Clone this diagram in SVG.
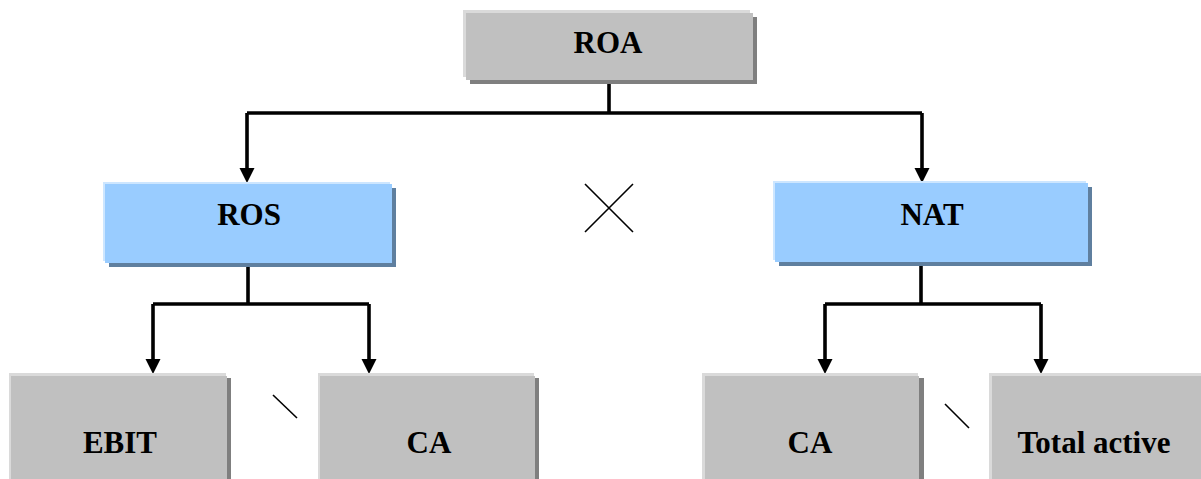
<svg xmlns="http://www.w3.org/2000/svg" width="1201" height="479" viewBox="0 0 1201 479">
<style>
.gray .hl{fill:#dadada}
.gray .sh{fill:#7f7f7f}
.gray .bx{fill:#c0c0c0}
.blue .hl{fill:#cde6ff}
.blue .sh{fill:#5f7f9f}
.blue .bx{fill:#99ccff}
text{font-family:"Liberation Serif","Times New Roman",serif;font-weight:bold;font-size:31px;fill:#000;text-anchor:middle}
.conn{fill:none;stroke:#000;stroke-width:3.6;stroke-linejoin:miter}
.thin{fill:none;stroke:#000;stroke-width:1.6}
.head{fill:#000}
</style>
<rect width="1201" height="479" fill="#fff"/>

<g id="connectors">
<path class="conn" d="M609,80 V113"/>
<path class="conn" d="M247,113 H922"/>
<path d="M247,113 V170" class="conn"/>
<polygon class="head" points="239.5,168 254.5,168 247,183"/>
<path d="M922,113 V170" class="conn"/>
<polygon class="head" points="914.5,168 929.5,168 922,183"/>
<path class="conn" d="M248,263 V304"/>
<path class="conn" d="M153,304 H369"/>
<path class="conn" d="M153,304 V361"/>
<polygon class="head" points="145.5,359 160.5,359 153,374"/>
<path class="conn" d="M369,304 V361"/>
<polygon class="head" points="361.5,359 376.5,359 369,374"/>
<path class="conn" d="M921,263 V304"/>
<path class="conn" d="M825,304 H1041"/>
<path class="conn" d="M825,304 V361"/>
<polygon class="head" points="817.5,359 832.5,359 825,374"/>
<path class="conn" d="M1041,304 V361"/>
<polygon class="head" points="1033.5,359 1048.5,359 1041,374"/>
</g>

<g id="operators">
<path class="thin" d="M585,184 L633,232 M633,184 L585,232"/>
<path class="thin" d="M273,395 L297,418"/>
<path class="thin" d="M945,404 L969,428"/>
</g>

<g id="roa" class="gray">
<rect class="sh" x="470" y="17" width="287" height="67"/>
<rect class="hl" x="463" y="10" width="287" height="67"/>
<rect class="bx" x="466" y="13" width="287" height="67"/>
<text x="608" y="53">ROA</text>
</g>

<g id="ros" class="blue">
<rect class="sh" x="109" y="188" width="287" height="79"/>
<rect class="hl" x="103" y="182" width="287" height="79"/>
<rect class="bx" x="105" y="184" width="287" height="79"/>
<text x="249" y="225">ROS</text>
</g>

<g id="nat" class="blue">
<rect class="sh" x="779" y="187" width="313" height="79"/>
<rect class="hl" x="773" y="181" width="313" height="79"/>
<rect class="bx" x="775" y="183" width="313" height="79"/>
<text x="932" y="225">NAT</text>
</g>

<g id="ebit" class="gray">
<rect class="sh" x="14" y="378" width="217" height="110"/>
<rect class="hl" x="9" y="373" width="217" height="110"/>
<rect class="bx" x="11" y="376" width="216" height="110"/>
<text x="120" y="453">EBIT</text>
</g>

<g id="ca-left" class="gray">
<rect class="sh" x="323" y="378" width="216" height="110"/>
<rect class="hl" x="318" y="373" width="216" height="110"/>
<rect class="bx" x="320" y="376" width="215" height="110"/>
<text x="429" y="453">CA</text>
</g>

<g id="ca-right" class="gray">
<rect class="sh" x="708" y="378" width="216" height="110"/>
<rect class="hl" x="702" y="373" width="216" height="110"/>
<rect class="bx" x="705" y="376" width="214" height="110"/>
<text x="810" y="453">CA</text>
</g>

<g id="total-active" class="gray">
<rect class="hl" x="989" y="373" width="220" height="110"/>
<rect class="bx" x="992" y="376" width="220" height="110"/>
<text x="1094" y="453">Total active</text>
</g>
</svg>
